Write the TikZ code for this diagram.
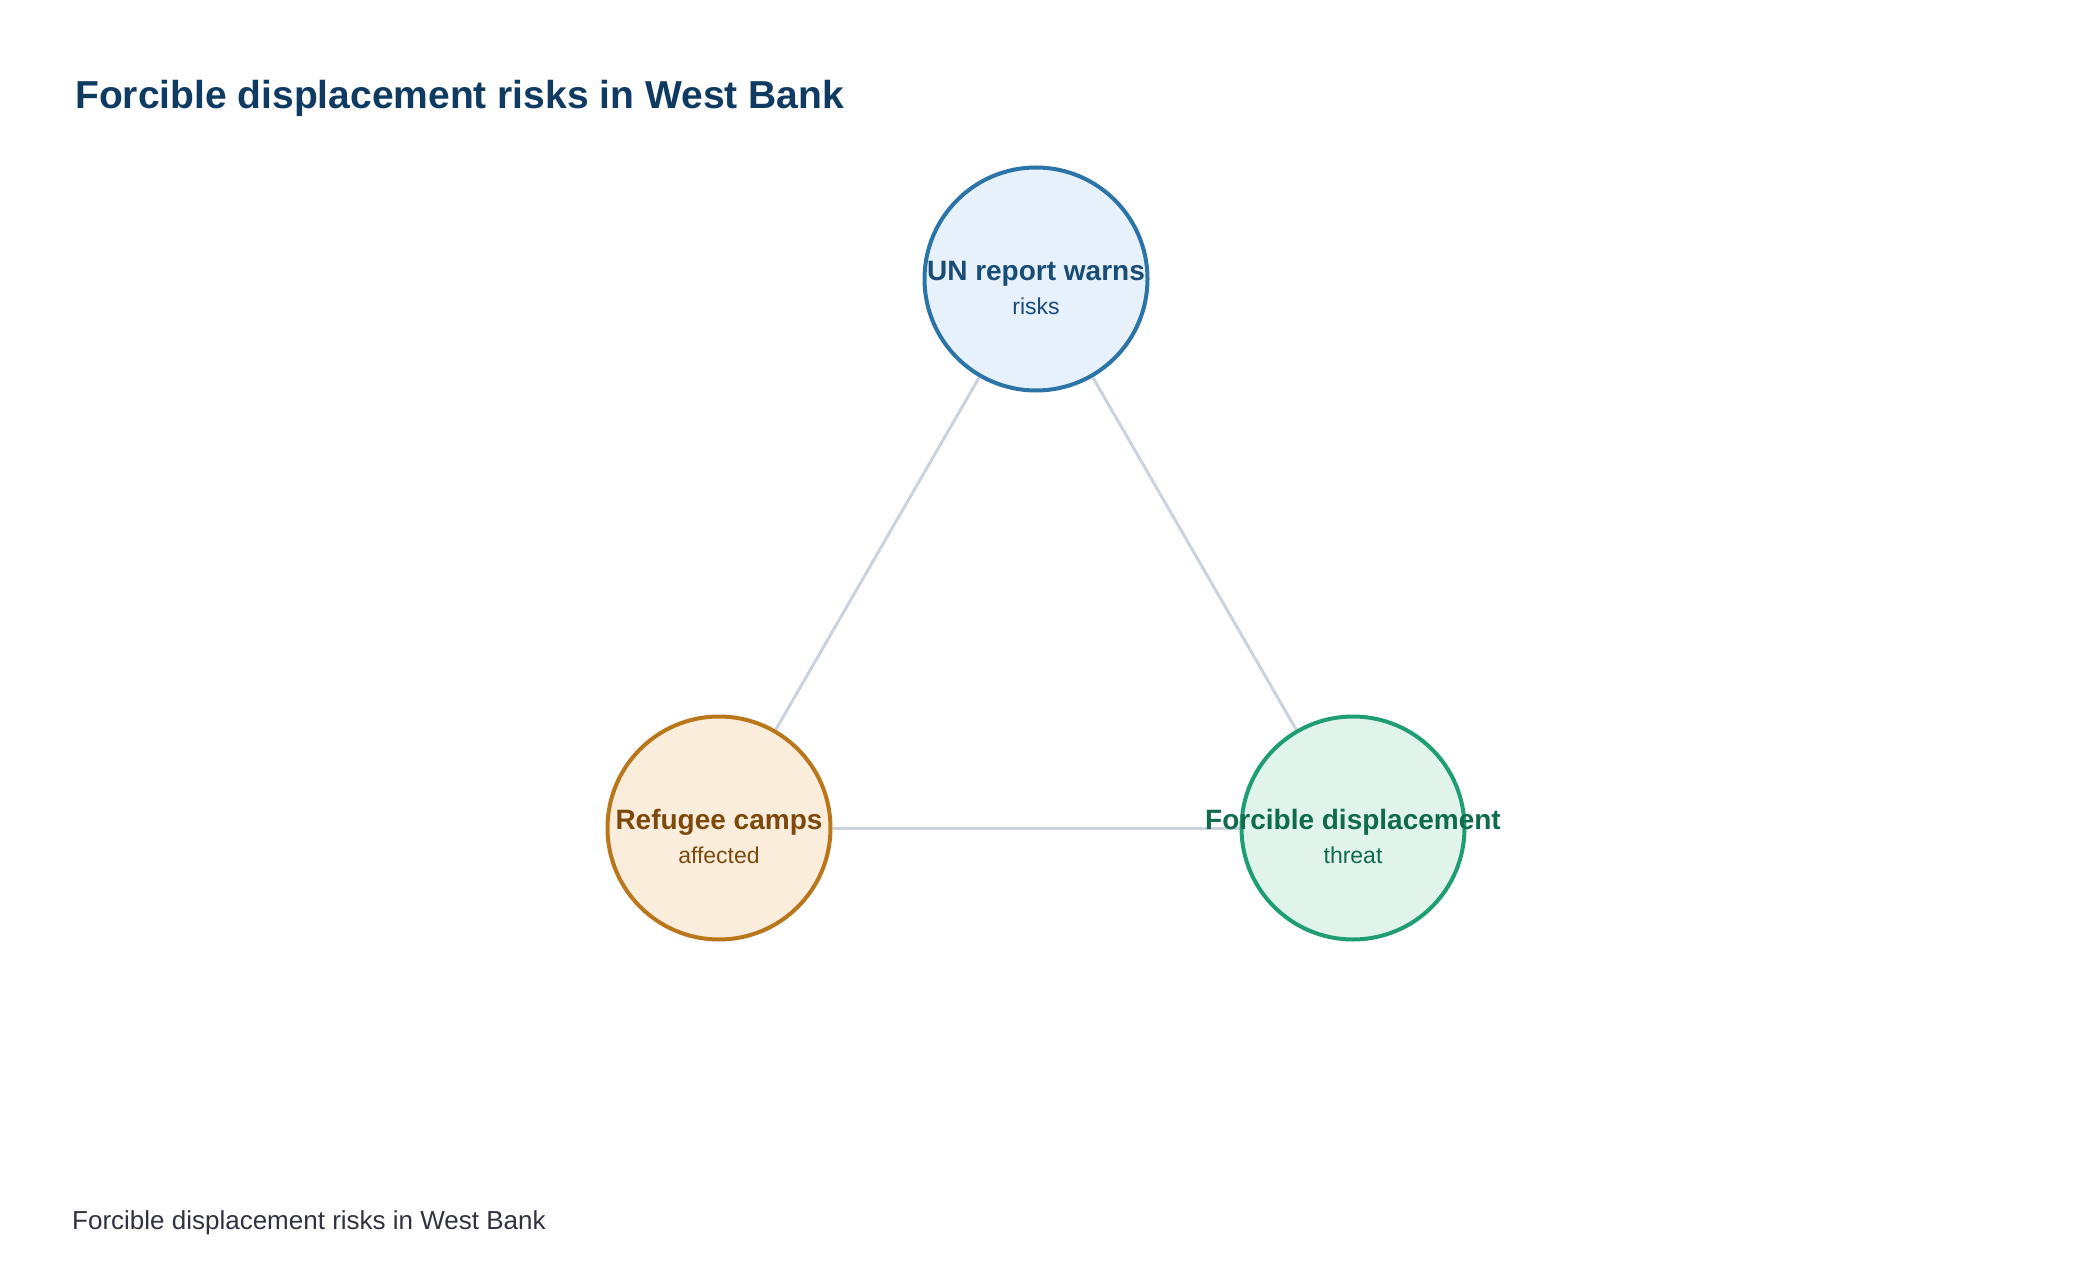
\documentclass[tikz,border=0pt]{standalone}
\usepackage{fontspec}
\setmainfont{Liberation Sans}
\usetikzlibrary{backgrounds}
\definecolor{titlec}{HTML}{0F3B62}
\definecolor{footc}{HTML}{30323F}
\definecolor{edgec}{HTML}{CAD3DE}
\definecolor{bstroke}{HTML}{2B74A7}
\definecolor{bfill}{HTML}{E6F1FB}
\definecolor{btext}{HTML}{1A4C78}
\definecolor{ostroke}{HTML}{B9761B}
\definecolor{ofill}{HTML}{FAEDDB}
\definecolor{otext}{HTML}{7D4A0D}
\definecolor{gstroke}{HTML}{1F9E72}
\definecolor{gfill}{HTML}{E0F4EC}
\definecolor{gtext}{HTML}{0F6A4E}
\tikzset{
  bubble/.style={circle, draw, line width=4pt, minimum size=223pt, inner sep=0pt},
  headtxt/.style={anchor=base, inner sep=0pt, font=\fontsize{28}{32}\selectfont\bfseries},
  subtxt/.style={anchor=base, inner sep=0pt, font=\fontsize{23}{27}\selectfont},
  link/.style={draw=edgec, line width=3pt},
}
\begin{document}
\begin{tikzpicture}[x=1pt,y=-1pt]
\useasboundingbox (0,0) rectangle (2080,1284);
\node[anchor=base west, inner sep=0pt, text=titlec, font=\fontsize{39}{46}\selectfont\bfseries] (title) at (75,109) {Forcible displacement risks in West Bank};
\node[anchor=base west, inner sep=0pt, text=footc, font=\fontsize{26}{31}\selectfont] (foot) at (72,1229) {Forcible displacement risks in West Bank};
\node[bubble, draw=bstroke, fill=bfill] (un) at (1036,279) {};
\node[bubble, draw=ostroke, fill=ofill] (rc) at (719,828) {};
\node[bubble, draw=gstroke, fill=gfill] (fd) at (1353,828) {};
\begin{scope}[on background layer]
\fill[white] (0,0) rectangle (2080,1284);
\draw[link] (un) -- (rc);
\draw[link] (un) -- (fd);
\draw[link] (rc) -- (fd);
\end{scope}
\node[headtxt, text=btext] (unh) at (1036,280) {UN report warns};
\node[subtxt, text=btext] (uns) at (1036,314) {risks};
\node[headtxt, text=otext] (rch) at (719,829) {Refugee camps};
\node[subtxt, text=otext] (rcs) at (719,863) {affected};
\node[headtxt, text=gtext] (fdh) at (1353,829) {Forcible displacement};
\node[subtxt, text=gtext] (fds) at (1353,863) {threat};
\end{tikzpicture}
\end{document}
